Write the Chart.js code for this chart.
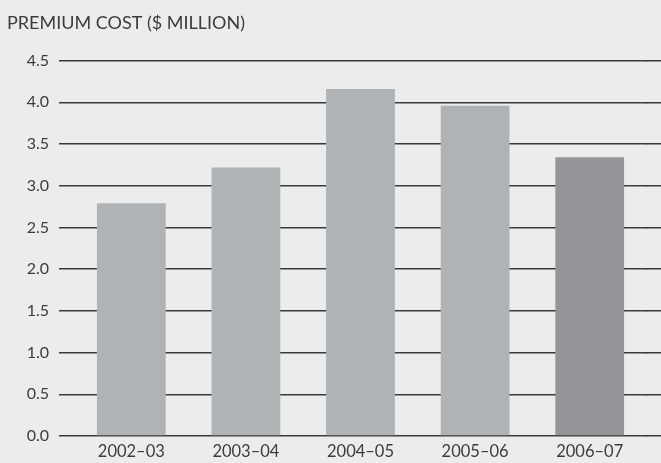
<!DOCTYPE html>
<html>
<head>
<meta charset="utf-8">
<script src="https://cdn.jsdelivr.net/npm/chart.js@4"></script>
<style>
  html, body { margin: 0; padding: 0; background: #ebeceb; }
  #wrap { width: 661px; height: 463px; }
</style>
</head>
<body>
<div id="wrap"><canvas id="premiumChart" width="661" height="463"></canvas></div>
<script>
// Premium cost by financial year ($ million)
const years = ['2002–03', '2003–04', '2004–05', '2005–06', '2006–07'];
const premiumCost = [2.79, 3.22, 4.16, 3.96, 3.34];
const barColors = ['#b0b3b5', '#b0b3b5', '#b0b3b5', '#b0b3b5', '#939598'];
const yTicks = [0, 0.5, 1, 1.5, 2, 2.5, 3, 3.5, 4, 4.5];

const GRID = '#3a3a3a';
const GRID_W = 1.5;
const TEXT = '#3c3c3c';
const FONT = 'Lato, "Open Sans", sans-serif';

// same pixel snapping Chart.js uses for its own grid lines
function snap(px, w) {
    const half = w / 2;
    return Math.round(px - half) + half;
}

// gridlines run on to the right edge of the picture
const gridRunOut = {
    id: 'gridRunOut',
    beforeDatasetsDraw(chart) {
        const { ctx, chartArea, scales } = chart;
        ctx.save();
        ctx.strokeStyle = GRID;
        ctx.lineWidth = GRID_W;
        yTicks.forEach(v => {
            const y = snap(scales.y.getPixelForValue(v), GRID_W);
            ctx.beginPath();
            ctx.moveTo(chartArea.right - 1, y);
            ctx.lineTo(chart.width, y);
            ctx.stroke();
        });
        ctx.restore();
    }
};

new Chart(document.getElementById('premiumChart').getContext('2d'), {
    type: 'bar',
    data: {
        labels: years,
        datasets: [{
            data: premiumCost,
            backgroundColor: barColors,
            borderWidth: 0,
            barPercentage: 0.6,
            categoryPercentage: 1.0
        }]
    },
    options: {
        responsive: false,
        animation: false,
        layout: { padding: { left: 7, right: 14, top: 0, bottom: 0 } },
        plugins: {
            legend: { display: false },
            tooltip: { enabled: false },
            title: {
                display: true,
                text: 'PREMIUM COST ($ MILLION)',
                align: 'start',
                color: TEXT,
                font: { family: FONT, size: 18, weight: 'normal' },
                padding: { top: 12, bottom: 27 }
            }
        },
        scales: {
            x: {
                grid: { display: false, drawTicks: false },
                border: { display: false },
                ticks: { color: TEXT, font: { family: FONT, size: 16.5 }, padding: 6, maxRotation: 0 },
                afterFit(axis) { axis.height = 27; }
            },
            y: {
                min: 0,
                max: 4.5,
                afterBuildTicks(axis) { axis.ticks = yTicks.map(v => ({ value: v })); },
                afterFit(axis) { axis.width = 67; },
                grid: { color: GRID, tickColor: GRID, lineWidth: GRID_W, tickLength: 15 },
                border: { display: false },
                ticks: {
                    color: TEXT,
                    padding: 10,
                    font: { family: FONT, size: 16 },
                    callback: v => Number(v).toFixed(1)
                }
            }
        }
    },
    plugins: [gridRunOut]
});
</script>
</body>
</html>
